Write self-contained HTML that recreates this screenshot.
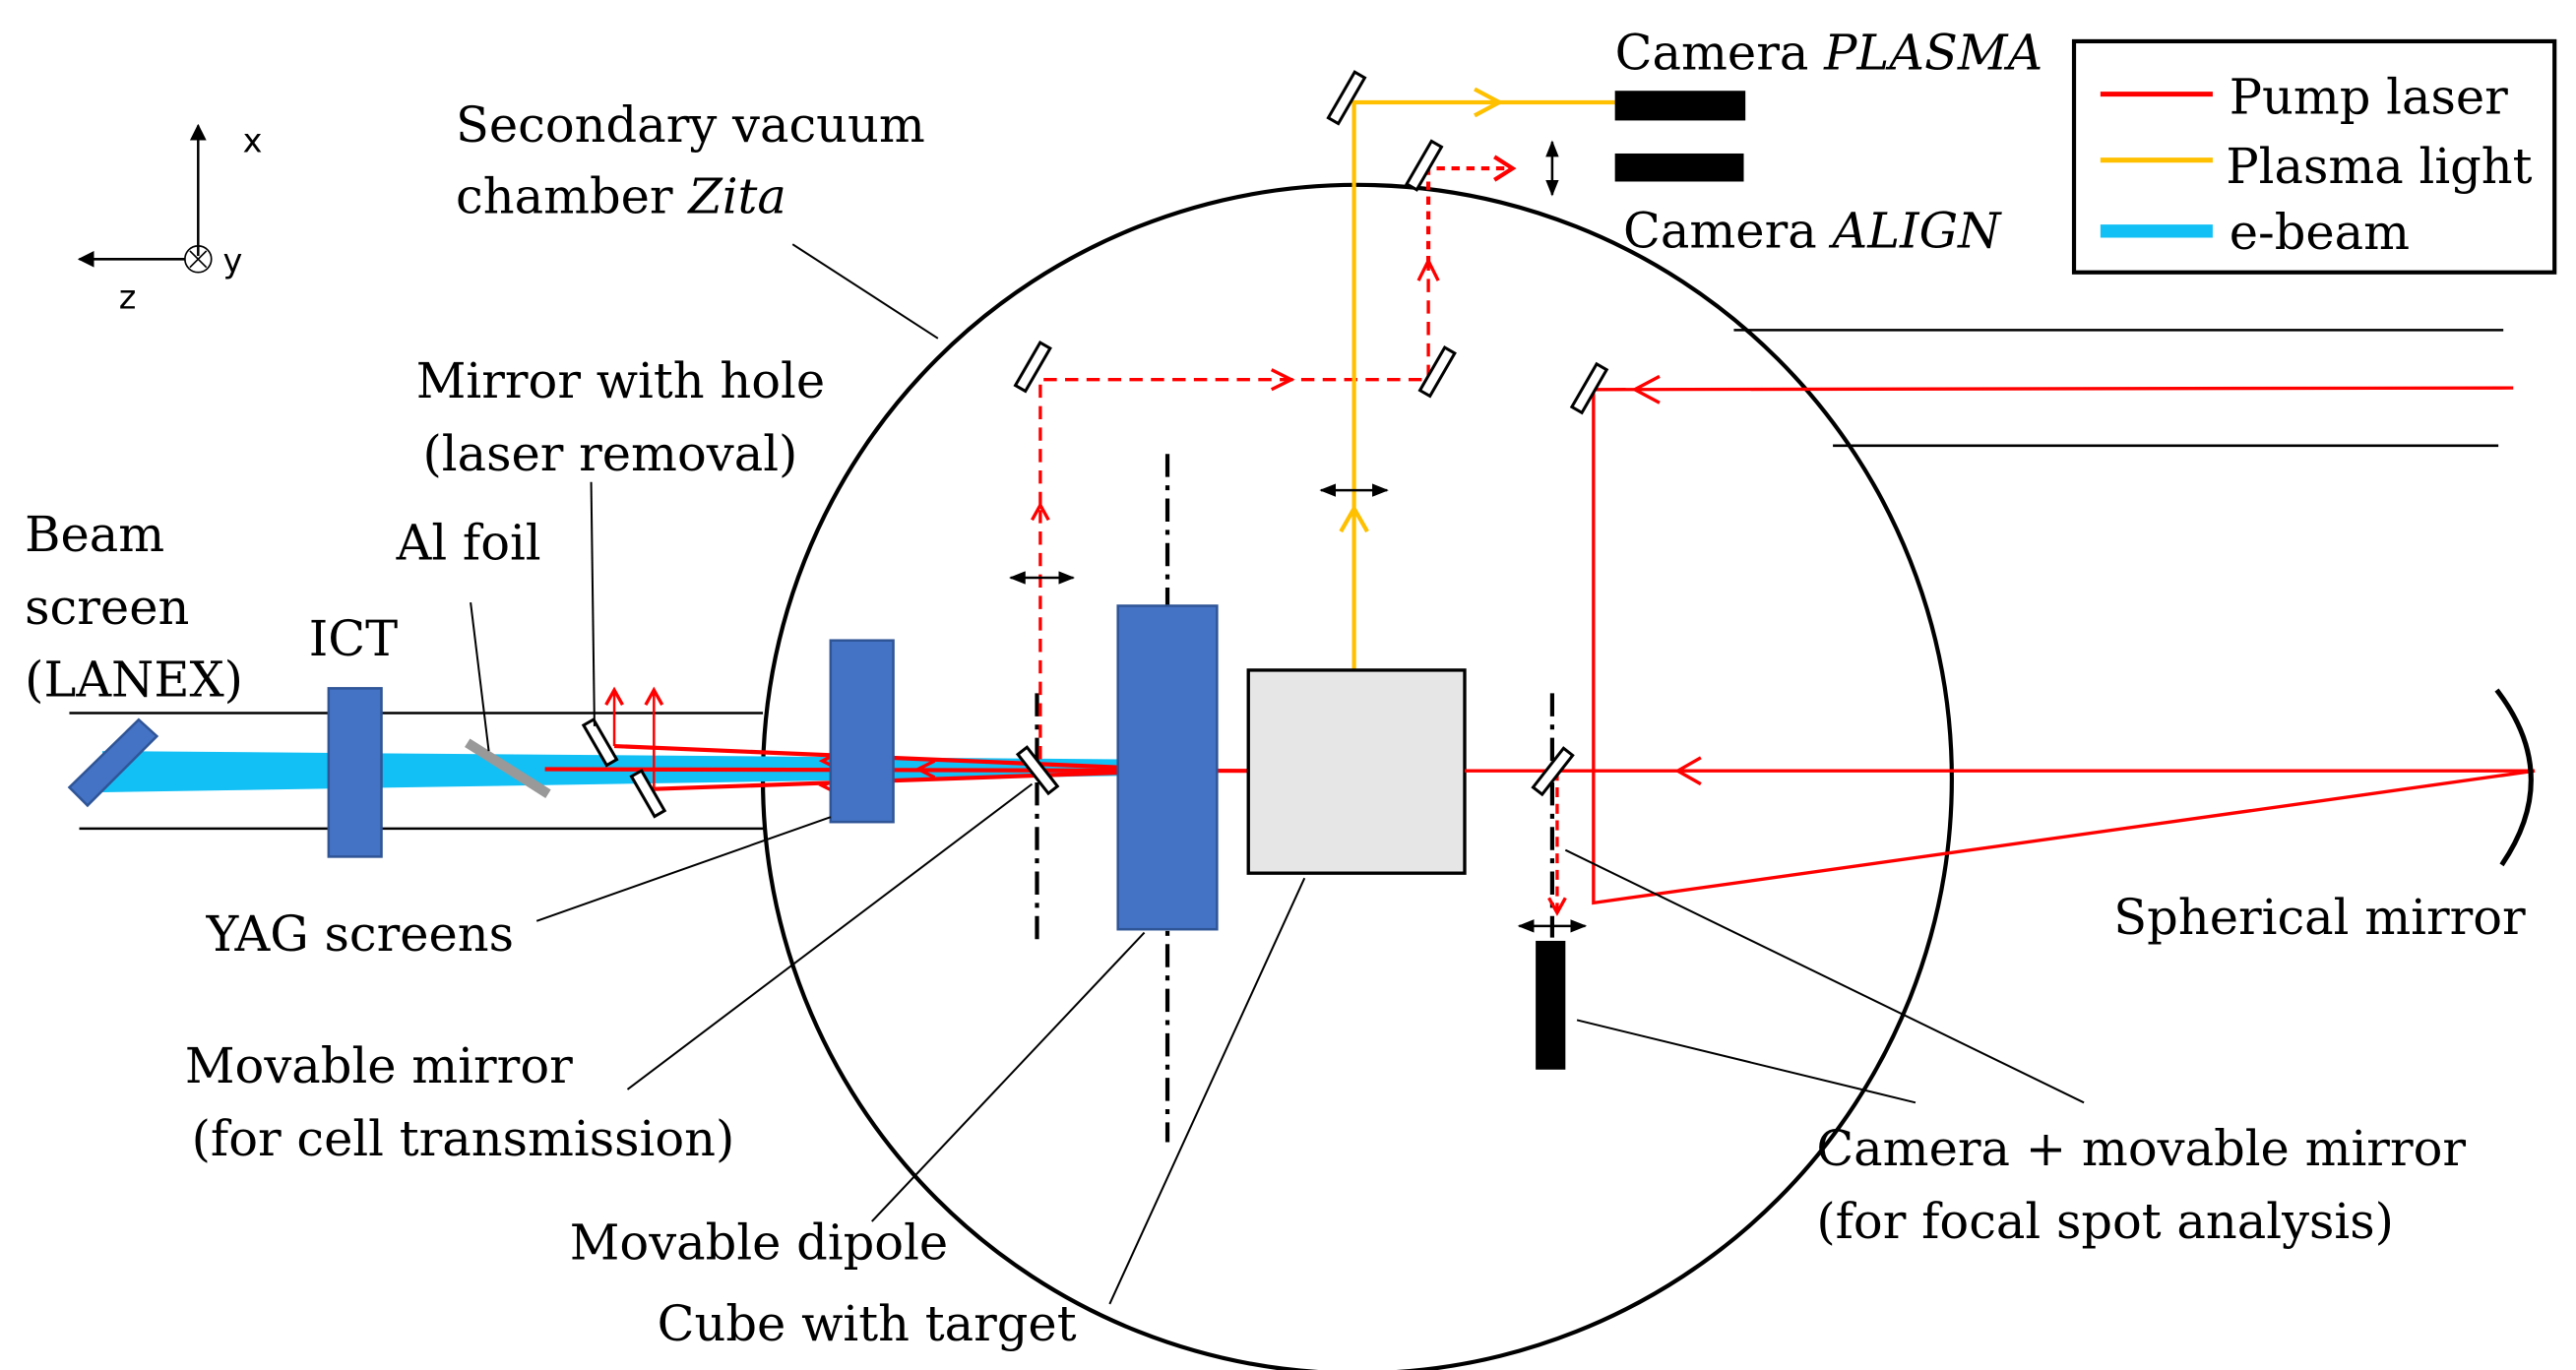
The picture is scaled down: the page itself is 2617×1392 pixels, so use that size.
<!DOCTYPE html>
<html><head><meta charset="utf-8"><style>
html,body{margin:0;padding:0;background:#fff;}
svg{display:block;}
text{font-family:"DejaVu Serif","Liberation Serif",serif;font-size:29.5px;fill:#000;}
.s{font-family:"DejaVu Sans","Liberation Sans",sans-serif;font-size:20px;}
</style></head><body>
<svg width="2617" height="1392" viewBox="0 0 1560 830" preserveAspectRatio="none" xmlns="http://www.w3.org/2000/svg">
<defs>
<marker id="ra" markerWidth="12" markerHeight="12" refX="10" refY="6" orient="auto" markerUnits="userSpaceOnUse"><path d="M1,1 L10,6 L1,11" fill="none" stroke="red" stroke-width="2"/></marker>
<marker id="ka" markerWidth="10" markerHeight="10" refX="9" refY="5" orient="auto-start-reverse" markerUnits="userSpaceOnUse"><path d="M0,0 L10,5 L0,10 Z" fill="#000"/></marker>
<marker id="sa" markerWidth="10" markerHeight="8" refX="9" refY="4" orient="auto-start-reverse" markerUnits="userSpaceOnUse"><path d="M0,0 L10,4 L0,8 Z" fill="#000"/></marker>
</defs>

<circle cx="822" cy="472" r="360" fill="none" stroke="#000" stroke-width="2.5"/>

<line x1="120" y1="155" x2="120" y2="76" stroke="#000" stroke-width="1.5" marker-end="url(#ka)"/>
<line x1="112" y1="157" x2="48" y2="157" stroke="#000" stroke-width="1.5" marker-end="url(#ka)"/>
<circle cx="120" cy="157" r="8" fill="none" stroke="#000" stroke-width="1"/>
<path d="M115,152 L125,162 M125,152 L115,162" stroke="#000" stroke-width="1"/>
<text class="s" x="147" y="92">x</text>
<text class="s" x="135" y="165">y</text>
<text class="s" x="72" y="187">z</text>

<line x1="42" y1="432" x2="462" y2="432" stroke="#000" stroke-width="1.5"/>
<line x1="48" y1="502" x2="462" y2="502" stroke="#000" stroke-width="1.5"/>
<polygon points="62,455 680,460 680,470 62,480" fill="#12c0f5"/>
<polygon points="42,477 84,436 95,446 53,488" fill="#4472c4" stroke="#2f5597" stroke-width="1.5"/>
<rect x="199" y="417" width="32" height="102" fill="#4472c4" stroke="#2f5597" stroke-width="1.5"/>
<line x1="283" y1="450" x2="332" y2="481" stroke="#999" stroke-width="6"/>

<line x1="372" y1="452" x2="680" y2="465" stroke="red" stroke-width="2.5"/>
<line x1="396" y1="478" x2="680" y2="468" stroke="red" stroke-width="2.5"/>
<line x1="330" y1="466" x2="756" y2="467" stroke="red" stroke-width="2.5"/>
<path d="M508,456 L498,461 L508,466" fill="none" stroke="red" stroke-width="2"/>
<path d="M508,472 L498,476 L508,481" fill="none" stroke="red" stroke-width="2"/>
<path d="M566,461 L556,466 L566,471" fill="none" stroke="red" stroke-width="2"/>
<line x1="372" y1="452" x2="372" y2="418" stroke="red" stroke-width="1.5" marker-end="url(#ra)"/>
<line x1="396" y1="478" x2="396" y2="418" stroke="red" stroke-width="1.5" marker-end="url(#ra)"/>
<rect x="360" y="436" width="7" height="28" fill="#fff" stroke="#000" stroke-width="1.8" transform="rotate(-30 363 450)"/>
<rect x="389" y="467" width="7" height="28" fill="#fff" stroke="#000" stroke-width="1.8" transform="rotate(-30 392 481)"/>

<rect x="503" y="388" width="38" height="110" fill="#4472c4" stroke="#2f5597" stroke-width="1.5"/>

<line x1="628" y1="420" x2="628" y2="572" stroke="#000" stroke-width="2.5" stroke-dasharray="14,5,3,5"/>
<rect x="625" y="452" width="7" height="30" fill="#fff" stroke="#000" stroke-width="1.8" transform="rotate(-38 628 467)"/>
<line x1="630" y1="460" x2="630" y2="306" stroke="red" stroke-width="2" stroke-dasharray="8,5" marker-end="url(#ra)"/>
<line x1="612" y1="350" x2="650" y2="350" stroke="#000" stroke-width="1.5" marker-start="url(#sa)" marker-end="url(#sa)"/>
<polyline points="630,306 630,230 865,230 865,160" fill="none" stroke="red" stroke-width="2" stroke-dasharray="8,5"/>
<path d="M770,224 L782,230 L770,236" fill="none" stroke="red" stroke-width="2"/>
<path d="M859,170 L865,158 L871,170" fill="none" stroke="red" stroke-width="2"/>
<polyline points="865,160 865,102 915,102" fill="none" stroke="red" stroke-width="2.5" stroke-dasharray="5,4"/>
<path d="M905,95 L916,102 L905,109" fill="none" stroke="red" stroke-width="2.5"/>
<line x1="940" y1="86" x2="940" y2="118" stroke="#000" stroke-width="1.5" marker-start="url(#sa)" marker-end="url(#sa)"/>
<rect x="622" y="207" width="7" height="30" fill="#fff" stroke="#000" stroke-width="1.8" transform="rotate(30 625 222)"/>
<rect x="867" y="210" width="7" height="30" fill="#fff" stroke="#000" stroke-width="1.8" transform="rotate(30 870 225)"/>
<rect x="859" y="85" width="7" height="30" fill="#fff" stroke="#000" stroke-width="1.8" transform="rotate(30 862 100)"/>

<line x1="707" y1="275" x2="707" y2="692" stroke="#000" stroke-width="2.5" stroke-dasharray="14,5,3,5"/>
<rect x="677" y="367" width="60" height="196" fill="#4472c4" stroke="#2f5597" stroke-width="1.5"/>

<polyline points="820,406 820,62 978,62" fill="none" stroke="#ffc000" stroke-width="2.5"/>
<path d="M893,54 L908,62 L893,70" fill="none" stroke="#ffc000" stroke-width="2.5"/>
<path d="M812,322 L820,308 L828,322" fill="none" stroke="#ffc000" stroke-width="2.5"/>
<line x1="800" y1="297" x2="840" y2="297" stroke="#000" stroke-width="1.5" marker-start="url(#sa)" marker-end="url(#sa)"/>
<rect x="812" y="43" width="7" height="32" fill="#fff" stroke="#000" stroke-width="1.8" transform="rotate(30 815 59)"/>

<rect x="756" y="406" width="131" height="123" fill="#e6e6e6" stroke="#000" stroke-width="2"/>

<rect x="978" y="55" width="79" height="18" fill="#000"/>
<rect x="978" y="93" width="78" height="17" fill="#000"/>

<line x1="1050" y1="200" x2="1516" y2="200" stroke="#000" stroke-width="1.5"/>
<line x1="1110" y1="270" x2="1513" y2="270" stroke="#000" stroke-width="1.5"/>
<line x1="1522" y1="235" x2="965" y2="236" stroke="red" stroke-width="2"/>
<path d="M1005,228 L990,236 L1005,244" fill="none" stroke="red" stroke-width="2"/>
<polyline points="965,236 965,547 1535,467" fill="none" stroke="red" stroke-width="2"/>
<line x1="887" y1="467" x2="1535" y2="467" stroke="red" stroke-width="2"/>
<path d="M1030,459 L1016,467 L1030,475" fill="none" stroke="red" stroke-width="2"/>
<rect x="959" y="220" width="7" height="30" fill="#fff" stroke="#000" stroke-width="1.8" transform="rotate(30 962 235)"/>
<path d="M1512,418 Q1552,470 1515,524" fill="none" stroke="#000" stroke-width="3"/>

<line x1="940" y1="420" x2="940" y2="568" stroke="#000" stroke-width="2.5" stroke-dasharray="14,5,3,5"/>
<line x1="943" y1="467" x2="943" y2="553" stroke="red" stroke-width="2" stroke-dasharray="6,4" marker-end="url(#ra)"/>
<rect x="937" y="452" width="7" height="30" fill="#fff" stroke="#000" stroke-width="1.8" transform="rotate(38 940 467)"/>
<line x1="920" y1="561" x2="960" y2="561" stroke="#000" stroke-width="1.5" marker-start="url(#sa)" marker-end="url(#sa)"/>
<rect x="930" y="570" width="18" height="78" fill="#000"/>

<g stroke="#000" stroke-width="1.2" fill="none">
<line x1="480" y1="148" x2="568" y2="205"/>
<line x1="358" y1="292" x2="360" y2="440"/>
<line x1="285" y1="365" x2="296" y2="455"/>
<line x1="325" y1="558" x2="503" y2="495"/>
<line x1="380" y1="660" x2="625" y2="475"/>
<line x1="528" y1="740" x2="693" y2="565"/>
<line x1="672" y1="790" x2="790" y2="532"/>
<line x1="955" y1="618" x2="1160" y2="668"/>
<line x1="948" y1="515" x2="1262" y2="668"/>
</g>

<rect x="1256" y="25" width="291" height="140" fill="#fff" stroke="#000" stroke-width="2.5"/>
<line x1="1272" y1="57" x2="1340" y2="57" stroke="red" stroke-width="3"/>
<line x1="1272" y1="97" x2="1340" y2="97" stroke="#ffc000" stroke-width="3"/>
<line x1="1272" y1="140" x2="1340" y2="140" stroke="#12c0f5" stroke-width="8"/>
<text x="1350" y="69">Pump laser</text>
<text x="1348" y="111">Plasma light</text>
<text x="1350" y="151">e-beam</text>

<text x="978" y="42">Camera <tspan font-style="italic">PLASMA</tspan></text>
<text x="983" y="150">Camera <tspan font-style="italic">ALIGN</tspan></text>
<text x="276" y="86">Secondary vacuum</text>
<text x="276" y="129">chamber <tspan font-style="italic">Zita</tspan></text>
<text x="252" y="241">Mirror with hole</text>
<text x="256" y="285">(laser removal)</text>
<text x="15" y="334">Beam</text>
<text x="15" y="378">screen</text>
<text x="15" y="422">(LANEX)</text>
<text x="187" y="397">ICT</text>
<text x="240" y="339">Al foil</text>
<text x="125" y="576">YAG screens</text>
<text x="112" y="656">Movable mirror</text>
<text x="116" y="700">(for cell transmission)</text>
<text x="345" y="763">Movable dipole</text>
<text x="398" y="812">Cube with target</text>
<text x="1280" y="566">Spherical mirror</text>
<text x="1100" y="706">Camera + movable mirror</text>
<text x="1100" y="750">(for focal spot analysis)</text>
</svg>
</body></html>
